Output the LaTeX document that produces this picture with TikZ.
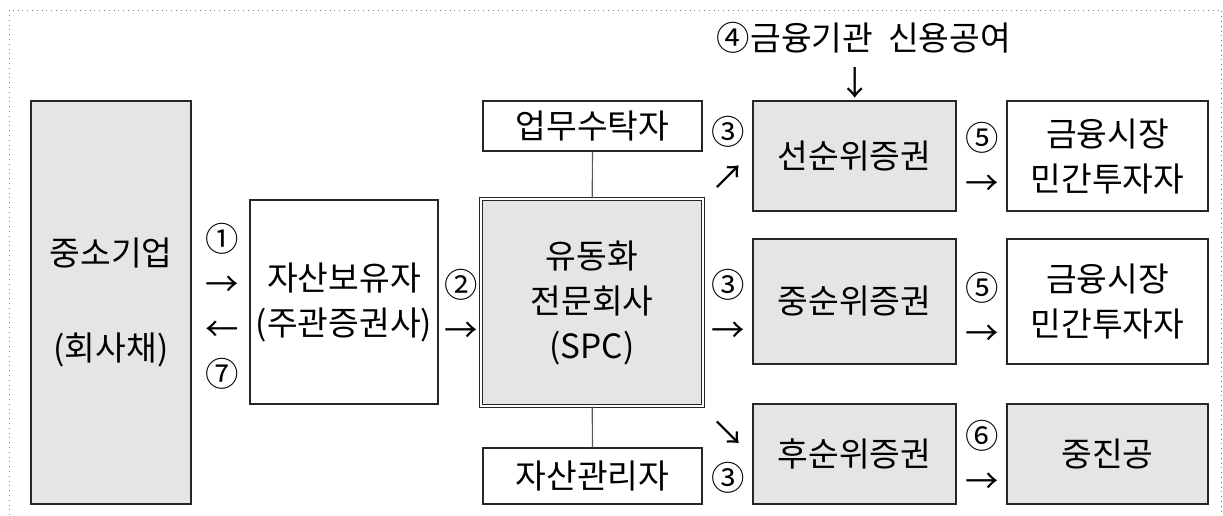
\documentclass[tikz,border=0pt]{standalone}
\usepackage{fontspec}
\setmainfont{Noto Sans CJK KR}
\usetikzlibrary{positioning}

\begin{document}
\begin{tikzpicture}[x=0.5pt, y=-0.5pt,
    font=\fontsize{16.7pt}{22.5pt}\selectfont,
    party/.style={draw=black!85, line width=0.6pt, fill=white, align=center, inner sep=0pt},
    tranche/.style={party, fill=gray!20},
    vehicle/.style={tranche, double=white, double distance=1pt},
    lbl/.style={align=center, inner sep=0pt}]
    \useasboundingbox (0,0) rectangle (1223,515);
    \draw[gray, dotted] (9,515) -- (9,10) -- (1221,10) -- (1221,515);
    % Parties
    \node[tranche, minimum width=80pt, minimum height=201.5pt] (sme) at (111,302.5) {중소기업\\[25pt](회사채)};
    \node[party, minimum width=94pt, minimum height=102pt] (holder) at (344,302) {자산보유자\\(주관증권사)};
    \node[vehicle, minimum width=111pt, minimum height=103.5pt] (spc) at (592,302.5) {유동화\\전문회사\\(SPC)};
    \node[party, minimum width=109.5pt, minimum height=25pt] (trustee) at (592.5,126) {업무수탁자};
    \node[party, minimum width=109.5pt, minimum height=28pt] (manager) at (592.5,476) {자산관리자};
    % Tranches
    \node[tranche, minimum width=101.5pt, minimum height=55pt] (senior) at (854.5,156) {선순위증권};
    \node[tranche, minimum width=101.5pt, minimum height=62.5pt] (mezz) at (854.5,301.5) {중순위증권};
    \node[tranche, minimum width=101.5pt, minimum height=50pt] (junior) at (854.5,454) {후순위증권};
    % Investors
    \node[party, minimum width=100.5pt, minimum height=55pt] (market1) at (1107.5,156) {금융시장\\민간투자자};
    \node[party, minimum width=100.5pt, minimum height=62.5pt] (market2) at (1107.5,301.5) {금융시장\\민간투자자};
    \node[tranche, minimum width=100.5pt, minimum height=50pt] (kosmes) at (1107.5,454) {중진공};
    % Step labels
    \node[lbl] (step1) at (222,306) {①\\→\\←\\⑦};
    \node[lbl] (step2) at (461,306) {②\\→};
    \node[lbl] (step3a) at (728,153) {③\\↗};
    \node[lbl] (step3b) at (728,306) {③\\→};
    \node[lbl] (step3c) at (728,457) {↘\\③};
    \node[lbl] (step4) at (864,38) {④금융기관\ \ 신용공여};
    \node[lbl] (step4arr) at (855,83) {↓};
    \node[lbl] (step5a) at (982,159) {⑤\\→};
    \node[lbl] (step5b) at (982,309) {⑤\\→};
    \node[lbl] (step6) at (982,457) {⑥\\→};
    % Links
    \draw[black!65, line width=0.6pt] (trustee) -- (spc);
    \draw[black!65, line width=0.6pt] (spc) -- (manager);
\end{tikzpicture}
\end{document}
